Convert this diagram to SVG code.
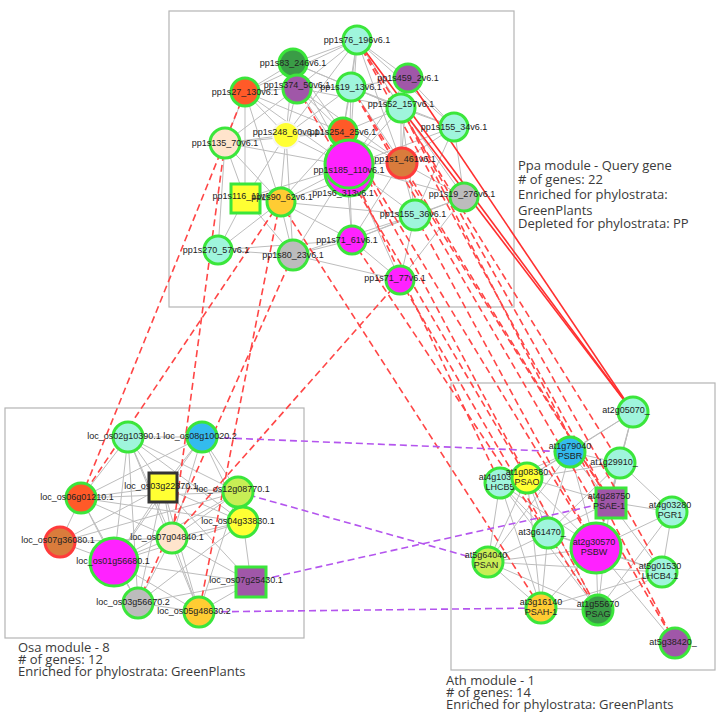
<svg xmlns="http://www.w3.org/2000/svg" width="723" height="718" viewBox="0 0 723 718">
<style>
.box{fill:#fff;stroke:#b4b4b4;stroke-width:1.2}
.g line{stroke:#bdbdbd;stroke-width:1}
.rd{stroke:#ff4646;stroke-width:1.6;stroke-dasharray:7 4;fill:none}
.rs{stroke:#ff3030;stroke-width:1.6}
.pd{stroke:#b455ee;stroke-width:1.6;stroke-dasharray:7 4}
.n{stroke:#3be63b;stroke-width:3}
.nr{stroke:#ff3b3b;stroke-width:3}
.nb{stroke:#333;stroke-width:3}
.nw{stroke:#f4f4f4;stroke-width:2}
.aq{fill:#9ff5dc}.or{fill:#ff5a28}.pu{fill:#a057a8}.dg{fill:#3a9c46}.ye{fill:#ffff33}.oy{fill:#ffcc33}
.pe{fill:#ffe4cc}.gr{fill:#bcbcbc}.mg{fill:#ff22ff}.br{fill:#d97c3c}.bl{fill:#33bbee}.yg{fill:#c8ee55}
text{font-family:"Liberation Sans",Arial,sans-serif;font-size:9px;fill:#222;text-anchor:middle}
.lg{font-family:"Open Sans","Liberation Sans",sans-serif;font-size:13px;fill:#3a3a3a;text-anchor:start}
</style>
<rect width="723" height="718" fill="#fff"/>
<rect class="box" x="169" y="11" width="345" height="296"/>
<rect class="box" x="5" y="408" width="299" height="230"/>
<rect class="box" x="451" y="383" width="264" height="287"/>
<g id="legends">
<text class="lg" x="518" y="170">Ppa module - Query gene</text>
<text class="lg" x="518" y="184">#  of genes: 22</text>
<text class="lg" x="518" y="199">Enriched for phylostrata:</text>
<text class="lg" x="518" y="215">GreenPlants</text>
<text class="lg" x="518" y="228">Depleted for phylostrata: PP</text>
<text class="lg" x="18" y="652">Osa module - 8</text>
<text class="lg" x="18" y="664">#  of genes: 12</text>
<text class="lg" x="18" y="676">Enriched for phylostrata: GreenPlants</text>
<text class="lg" x="446" y="685">Ath module - 1</text>
<text class="lg" x="446" y="697">#  of genes: 14</text>
<text class="lg" x="446" y="709">Enriched for phylostrata: GreenPlants</text>
</g>
<g id="edges-intra" class="g">
<line x1="357" y1="40" x2="351" y2="87"/><line x1="357" y1="40" x2="408" y2="78"/><line x1="357" y1="40" x2="401" y2="108"/><line x1="357" y1="40" x2="343" y2="132"/><line x1="357" y1="40" x2="293" y2="63"/><line x1="357" y1="40" x2="297" y2="88"/><line x1="357" y1="40" x2="349" y2="166"/><line x1="357" y1="40" x2="401" y2="162"/><line x1="357" y1="40" x2="454" y2="127"/><line x1="357" y1="40" x2="286" y2="135"/><line x1="357" y1="40" x2="245" y2="92"/>
<line x1="293" y1="63" x2="297" y2="88"/><line x1="293" y1="63" x2="245" y2="92"/><line x1="293" y1="63" x2="351" y2="87"/><line x1="293" y1="63" x2="343" y2="132"/><line x1="293" y1="63" x2="286" y2="135"/><line x1="293" y1="63" x2="349" y2="166"/><line x1="293" y1="63" x2="401" y2="108"/>
<line x1="297" y1="88" x2="245" y2="92"/><line x1="297" y1="88" x2="351" y2="87"/><line x1="297" y1="88" x2="286" y2="135"/><line x1="297" y1="88" x2="343" y2="132"/><line x1="297" y1="88" x2="349" y2="166"/><line x1="297" y1="88" x2="225" y2="143"/><line x1="297" y1="88" x2="401" y2="162"/><line x1="297" y1="88" x2="401" y2="108"/>
<line x1="245" y1="92" x2="225" y2="143"/><line x1="245" y1="92" x2="286" y2="135"/><line x1="245" y1="92" x2="343" y2="132"/><line x1="245" y1="92" x2="349" y2="166"/><line x1="245" y1="92" x2="280" y2="202"/><line x1="245" y1="92" x2="245" y2="198"/>
<line x1="351" y1="87" x2="408" y2="78"/><line x1="351" y1="87" x2="401" y2="108"/><line x1="351" y1="87" x2="343" y2="132"/><line x1="351" y1="87" x2="349" y2="166"/><line x1="351" y1="87" x2="401" y2="162"/><line x1="351" y1="87" x2="286" y2="135"/><line x1="351" y1="87" x2="454" y2="127"/>
<line x1="408" y1="78" x2="401" y2="108"/><line x1="408" y1="78" x2="454" y2="127"/><line x1="408" y1="78" x2="401" y2="162"/><line x1="408" y1="78" x2="349" y2="166"/>
<line x1="401" y1="108" x2="454" y2="127"/><line x1="401" y1="108" x2="343" y2="132"/><line x1="401" y1="108" x2="349" y2="166"/><line x1="401" y1="108" x2="401" y2="162"/><line x1="401" y1="108" x2="415" y2="215"/><line x1="401" y1="108" x2="464" y2="197"/>
<line x1="454" y1="127" x2="401" y2="162"/><line x1="454" y1="127" x2="464" y2="197"/><line x1="454" y1="127" x2="349" y2="166"/><line x1="454" y1="127" x2="415" y2="215"/>
<line x1="343" y1="132" x2="286" y2="135"/><line x1="343" y1="132" x2="401" y2="162"/><line x1="343" y1="132" x2="225" y2="143"/><line x1="343" y1="132" x2="280" y2="202"/><line x1="343" y1="132" x2="352" y2="240"/>
<line x1="286" y1="135" x2="225" y2="143"/><line x1="286" y1="135" x2="349" y2="166"/><line x1="286" y1="135" x2="280" y2="202"/><line x1="286" y1="135" x2="245" y2="198"/><line x1="286" y1="135" x2="293" y2="255"/>
<line x1="225" y1="143" x2="245" y2="198"/><line x1="225" y1="143" x2="280" y2="202"/><line x1="225" y1="143" x2="218" y2="250"/><line x1="225" y1="143" x2="349" y2="166"/>
<line x1="349" y1="166" x2="401" y2="162"/><line x1="349" y1="166" x2="415" y2="215"/><line x1="349" y1="166" x2="352" y2="240"/><line x1="349" y1="166" x2="280" y2="202"/><line x1="349" y1="166" x2="245" y2="198"/><line x1="349" y1="166" x2="293" y2="255"/><line x1="349" y1="166" x2="464" y2="197"/><line x1="349" y1="166" x2="400" y2="280"/>
<line x1="401" y1="162" x2="464" y2="197"/><line x1="401" y1="162" x2="415" y2="215"/><line x1="401" y1="162" x2="352" y2="240"/>
<line x1="464" y1="197" x2="415" y2="215"/><line x1="464" y1="197" x2="352" y2="240"/><line x1="464" y1="197" x2="400" y2="280"/>
<line x1="415" y1="215" x2="352" y2="240"/><line x1="415" y1="215" x2="400" y2="280"/><line x1="415" y1="215" x2="293" y2="255"/>
<line x1="352" y1="240" x2="400" y2="280"/><line x1="352" y1="240" x2="280" y2="202"/><line x1="352" y1="240" x2="293" y2="255"/><line x1="352" y1="240" x2="218" y2="250"/>
<line x1="245" y1="198" x2="280" y2="202"/><line x1="245" y1="198" x2="218" y2="250"/><line x1="245" y1="198" x2="293" y2="255"/>
<line x1="280" y1="202" x2="293" y2="255"/><line x1="280" y1="202" x2="218" y2="250"/><line x1="280" y1="202" x2="415" y2="215"/>
<line x1="218" y1="250" x2="293" y2="255"/><line x1="293" y1="255" x2="400" y2="280"/><line x1="349" y1="178" x2="280" y2="202"/>
<line x1="128" y1="437" x2="202" y2="437"/><line x1="128" y1="437" x2="163" y2="487"/><line x1="128" y1="437" x2="81" y2="498"/><line x1="128" y1="437" x2="238" y2="492"/><line x1="128" y1="437" x2="243" y2="522"/><line x1="128" y1="437" x2="114" y2="562"/><line x1="128" y1="437" x2="172" y2="538"/><line x1="128" y1="437" x2="138" y2="603"/><line x1="128" y1="437" x2="199" y2="612"/>
<line x1="202" y1="437" x2="163" y2="487"/><line x1="202" y1="437" x2="238" y2="492"/><line x1="202" y1="437" x2="243" y2="522"/><line x1="202" y1="437" x2="172" y2="538"/><line x1="202" y1="437" x2="114" y2="562"/><line x1="202" y1="437" x2="81" y2="498"/>
<line x1="163" y1="487" x2="81" y2="498"/><line x1="163" y1="487" x2="238" y2="492"/><line x1="163" y1="487" x2="243" y2="522"/><line x1="163" y1="487" x2="60" y2="542"/><line x1="163" y1="487" x2="114" y2="562"/><line x1="163" y1="487" x2="172" y2="538"/><line x1="163" y1="487" x2="138" y2="603"/><line x1="163" y1="487" x2="251" y2="582"/><line x1="163" y1="487" x2="199" y2="612"/>
<line x1="81" y1="498" x2="238" y2="492"/><line x1="81" y1="498" x2="60" y2="542"/><line x1="81" y1="498" x2="114" y2="562"/><line x1="81" y1="498" x2="172" y2="538"/><line x1="81" y1="498" x2="138" y2="603"/><line x1="81" y1="498" x2="243" y2="522"/>
<line x1="238" y1="492" x2="243" y2="522"/><line x1="238" y1="492" x2="114" y2="562"/><line x1="238" y1="492" x2="172" y2="538"/><line x1="238" y1="492" x2="199" y2="612"/>
<line x1="243" y1="522" x2="172" y2="538"/><line x1="243" y1="522" x2="251" y2="582"/><line x1="243" y1="522" x2="114" y2="562"/><line x1="243" y1="522" x2="138" y2="603"/>
<line x1="60" y1="542" x2="114" y2="562"/><line x1="60" y1="542" x2="172" y2="538"/><line x1="60" y1="542" x2="238" y2="492"/>
<line x1="114" y1="562" x2="172" y2="538"/><line x1="114" y1="562" x2="138" y2="603"/><line x1="114" y1="562" x2="199" y2="612"/><line x1="114" y1="562" x2="251" y2="582"/>
<line x1="172" y1="538" x2="138" y2="603"/><line x1="172" y1="538" x2="199" y2="612"/><line x1="172" y1="538" x2="251" y2="582"/>
<line x1="138" y1="603" x2="199" y2="612"/><line x1="138" y1="603" x2="251" y2="582"/><line x1="251" y1="582" x2="199" y2="612"/>
<line x1="633" y1="412" x2="570" y2="452"/><line x1="633" y1="412" x2="620" y2="463"/><line x1="633" y1="412" x2="527" y2="478"/><line x1="633" y1="412" x2="610" y2="502"/><line x1="633" y1="412" x2="596" y2="548"/>
<line x1="570" y1="452" x2="620" y2="463"/><line x1="570" y1="452" x2="500" y2="483"/><line x1="570" y1="452" x2="527" y2="478"/><line x1="570" y1="452" x2="610" y2="502"/><line x1="570" y1="452" x2="548" y2="533"/><line x1="570" y1="452" x2="596" y2="548"/><line x1="570" y1="452" x2="488" y2="562"/>
<line x1="620" y1="463" x2="527" y2="478"/><line x1="620" y1="463" x2="610" y2="502"/><line x1="620" y1="463" x2="672" y2="512"/><line x1="620" y1="463" x2="596" y2="548"/><line x1="620" y1="463" x2="548" y2="533"/>
<line x1="500" y1="483" x2="527" y2="478"/><line x1="500" y1="483" x2="548" y2="533"/><line x1="500" y1="483" x2="596" y2="548"/><line x1="500" y1="483" x2="488" y2="562"/><line x1="500" y1="483" x2="541" y2="608"/><line x1="500" y1="483" x2="598" y2="610"/>
<line x1="527" y1="478" x2="548" y2="533"/><line x1="527" y1="478" x2="596" y2="548"/><line x1="527" y1="478" x2="488" y2="562"/><line x1="527" y1="478" x2="541" y2="608"/><line x1="527" y1="478" x2="610" y2="502"/><line x1="527" y1="478" x2="598" y2="610"/>
<line x1="610" y1="502" x2="672" y2="512"/><line x1="610" y1="502" x2="596" y2="548"/><line x1="610" y1="502" x2="662" y2="572"/><line x1="610" y1="502" x2="548" y2="533"/><line x1="610" y1="502" x2="598" y2="610"/>
<line x1="672" y1="512" x2="596" y2="548"/><line x1="672" y1="512" x2="662" y2="572"/><line x1="672" y1="512" x2="598" y2="610"/>
<line x1="548" y1="533" x2="596" y2="548"/><line x1="548" y1="533" x2="488" y2="562"/><line x1="548" y1="533" x2="541" y2="608"/><line x1="548" y1="533" x2="598" y2="610"/><line x1="548" y1="533" x2="662" y2="572"/>
<line x1="596" y1="548" x2="488" y2="562"/><line x1="596" y1="548" x2="541" y2="608"/><line x1="596" y1="548" x2="598" y2="610"/><line x1="596" y1="548" x2="662" y2="572"/><line x1="596" y1="548" x2="675" y2="643"/>
<line x1="488" y1="562" x2="541" y2="608"/><line x1="488" y1="562" x2="598" y2="610"/><line x1="488" y1="562" x2="662" y2="572"/>
<line x1="541" y1="608" x2="598" y2="610"/><line x1="541" y1="608" x2="662" y2="572"/><line x1="598" y1="610" x2="662" y2="572"/>
</g>
<g id="connectors">
<line class="rs" x1="357" y1="40" x2="633" y2="412"/>
<line class="rs" x1="408" y1="78" x2="633" y2="412"/>
<line class="rs" x1="401" y1="108" x2="633" y2="412"/>
<line class="rd" x1="245" y1="92" x2="81" y2="498"/>
<line class="rd" x1="280" y1="202" x2="81" y2="498"/>
<line class="rd" x1="225" y1="143" x2="172" y2="538"/>
<line class="rd" x1="280" y1="202" x2="199" y2="612"/>
<line class="rd" x1="293" y1="255" x2="138" y2="603"/>
<line class="rd" x1="400" y1="280" x2="172" y2="538"/>
<line class="rd" x1="357" y1="40" x2="610" y2="502"/>
<line class="rd" x1="351" y1="87" x2="610" y2="502"/>
<line class="rd" x1="401" y1="108" x2="675" y2="643"/>
<line class="rd" x1="351" y1="87" x2="675" y2="643"/>
<line class="rd" x1="401" y1="108" x2="662" y2="572"/>
<line class="rd" x1="297" y1="88" x2="527" y2="478"/>
<line class="rd" x1="343" y1="132" x2="596" y2="548"/>
<line class="rd" x1="343" y1="132" x2="598" y2="610"/>
<line class="rd" x1="349" y1="166" x2="500" y2="483"/>
<line class="rd" x1="401" y1="162" x2="610" y2="502"/>
<line class="rd" x1="280" y1="202" x2="541" y2="608"/>
<line class="rd" x1="352" y1="240" x2="598" y2="610"/>
<line class="rd" x1="415" y1="215" x2="596" y2="548"/>
<line class="rd" x1="400" y1="280" x2="548" y2="533"/>
<line class="rd" x1="357" y1="40" x2="620" y2="463"/>
<line class="pd" x1="202" y1="437" x2="570" y2="452"/>
<line class="pd" x1="238" y1="492" x2="488" y2="562"/>
<line class="pd" x1="251" y1="582" x2="610" y2="502"/>
<line class="pd" x1="199" y1="612" x2="541" y2="608"/>
</g>
<g id="nodes">
<g id="pp1s76_196"><circle class="n aq" cx="357" cy="40" r="14"/><text x="357" y="43">pp1s76_196v6.1</text></g>
<g id="pp1s83_246"><circle class="n dg" cx="293" cy="63" r="14"/><text x="293" y="66">pp1s83_246v6.1</text></g>
<g id="pp1s374_50"><circle class="n pu" cx="297" cy="89" r="14"/><text x="297" y="88">pp1s374_50v6.1</text></g>
<g id="pp1s27_130"><circle class="n or" cx="245" cy="92" r="14"/><text x="245" y="95">pp1s27_130v6.1</text></g>
<g id="pp1s19_13"><circle class="n aq" cx="351" cy="87" r="14"/><text x="351" y="90">pp1s19_13v6.1</text></g>
<g id="pp1s459_2"><circle class="n pu" cx="408" cy="78" r="14"/><text x="408" y="81">pp1s459_2v6.1</text></g>
<g id="pp1s52_157"><circle class="n aq" cx="401" cy="108" r="14"/><text x="401" y="107">pp1s52_157v6.1</text></g>
<g id="pp1s155_34"><circle class="n aq" cx="454" cy="127" r="14"/><text x="454" y="130">pp1s155_34v6.1</text></g>
<g id="pp1s254_25"><circle class="n or" cx="343" cy="132" r="14"/><text x="343" y="135">pp1s254_25v6.1</text></g>
<g id="pp1s248_60"><circle class="nw ye" cx="286" cy="135" r="13"/><text x="286" y="135">pp1s248_60v6.1</text></g>
<g id="pp1s135_70"><circle class="n pe" cx="225" cy="143" r="15"/><text x="225" y="146">pp1s135_70v6.1</text></g>
<g id="pp1s6_313"><circle class="n mg" cx="349" cy="172" r="24"/><text x="343" y="196">pp1s6_313v6.1</text></g>
<g id="pp1s185_110"><circle class="n mg" cx="349" cy="164" r="24"/><text x="349" y="173">pp1s185_110v6.1</text></g>
<g id="pp1s1_461"><circle class="nr br" cx="402" cy="163" r="15"/><text x="405" y="162">pp1s1_461v6.1</text></g>
<g id="pp1s19_276"><circle class="n gr" cx="464" cy="197" r="14"/><text x="462" y="197">pp1s19_276v6.1</text></g>
<g id="pp1s155_36"><circle class="n aq" cx="415" cy="215" r="15"/><text x="413" y="217">pp1s155_36v6.1</text></g>
<g id="pp1s71_61"><circle class="n mg" cx="352" cy="240" r="14"/><text x="347" y="243">pp1s71_61v6.1</text></g>
<g id="pp1s71_77"><circle class="n mg" cx="400" cy="280" r="14"/><text x="395" y="281">pp1s71_77v6.1</text></g>
<g id="pp1s116_11"><rect class="n ye" x="231" y="184" width="29" height="29"/><text x="245" y="199">pp1s116_11v6.1</text></g>
<g id="pp1s90_62"><circle class="n oy" cx="281" cy="202" r="14"/><text x="282" y="200">pp1s90_62v6.1</text></g>
<g id="pp1s270_57"><circle class="n aq" cx="218" cy="250" r="14"/><text x="216" y="253">pp1s270_57v6.1</text></g>
<g id="pp1s80_23"><circle class="n gr" cx="293" cy="255" r="15"/><text x="293" y="258">pp1s80_23v6.1</text></g>
<g id="loc_os02g10390"><circle class="n aq" cx="128" cy="437" r="15"/><text x="124" y="439">loc_os02g10390.1</text></g>
<g id="loc_os08g10020"><circle class="n bl" cx="202" cy="437" r="15"/><text x="200" y="439">loc_os08g10020.2</text></g>
<g id="loc_os03g22370"><rect class="nb ye" x="149" y="473" width="28" height="29"/><text x="161" y="489">loc_os03g22370.1</text></g>
<g id="loc_os06g01210"><circle class="n or" cx="81" cy="498" r="15"/><text x="77" y="500">loc_os06g01210.1</text></g>
<g id="loc_os12g08770"><circle class="n yg" cx="238" cy="492" r="15"/><text x="233" y="492">loc_os12g08770.1</text></g>
<g id="loc_os04g33830"><circle class="n ye" cx="243" cy="522" r="15"/><text x="238" y="524">loc_os04g33830.1</text></g>
<g id="loc_os07g36080"><circle class="nr br" cx="60" cy="542" r="15"/><text x="58" y="543">loc_os07g36080.1</text></g>
<g id="loc_os01g56680"><circle class="n mg" cx="114" cy="562" r="24"/><text x="113" y="564">loc_os01g56680.1</text></g>
<g id="loc_os07g04840"><circle class="n pe" cx="172" cy="538" r="15"/><text x="167" y="540">loc_os07g04840.1</text></g>
<g id="loc_os03g56670"><circle class="n gr" cx="138" cy="603" r="15"/><text x="133" y="605">loc_os03g56670.2</text></g>
<g id="loc_os07g25430"><rect class="n pu" x="236" y="567" width="30" height="30"/><text x="246" y="583">loc_os07g25430.1</text></g>
<g id="loc_os05g48630"><circle class="n oy" cx="199" cy="612" r="15"/><text x="194" y="614">loc_os05g48630.2</text></g>
<g id="at2g05070"><circle class="n aq" cx="633" cy="412" r="15"/><text x="626" y="413">at2g05070_</text></g>
<g id="at1g79040"><circle class="n bl" cx="570" cy="452" r="15"/><text x="570" y="449">at1g79040<tspan x="570" y="459">PSBR</tspan></text></g>
<g id="at1g29910"><circle class="n aq" cx="620" cy="463" r="15"/><text x="614" y="465">at1g29910_</text></g>
<g id="at4g10340"><circle class="n aq" cx="500" cy="483" r="15"/><text x="500" y="480">at4g10340<tspan x="500" y="490">LHCB5</tspan></text></g>
<g id="at1g08380"><circle class="n ye" cx="527" cy="478" r="15"/><text x="527" y="475">at1g08380<tspan x="527" y="485">PSAO</tspan></text></g>
<g id="at4g28750"><rect class="n pu" x="596" y="488" width="30" height="30"/><text x="609" y="499">at4g28750<tspan x="609" y="509">PSAE-1</tspan></text></g>
<g id="at4g03280"><circle class="n aq" cx="672" cy="512" r="15"/><text x="670" y="508">at4g03280<tspan x="670" y="518">PGR1</tspan></text></g>
<g id="at3g61470"><circle class="n aq" cx="548" cy="533" r="15"/><text x="542" y="535">at3g61470_</text></g>
<g id="at2g30570"><circle class="n mg" cx="596" cy="548" r="25"/><text x="594" y="545">at2g30570<tspan x="594" y="555">PSBW</tspan></text></g>
<g id="at5g64040"><circle class="n yg" cx="488" cy="562" r="15"/><text x="486" y="558">at5g64040<tspan x="486" y="568">PSAN</tspan></text></g>
<g id="at3g16140"><circle class="n oy" cx="541" cy="608" r="15"/><text x="541" y="605">at3g16140<tspan x="541" y="615">PSAH-1</tspan></text></g>
<g id="at1g55670"><circle class="n dg" cx="598" cy="610" r="15"/><text x="598" y="607">at1g55670<tspan x="598" y="617">PSAG</tspan></text></g>
<g id="at5g01530"><circle class="n aq" cx="662" cy="572" r="15"/><text x="660" y="569">at5g01530<tspan x="660" y="579">LHCB4.1</tspan></text></g>
<g id="at5g38420"><circle class="n pu" cx="675" cy="643" r="15"/><text x="673" y="645">at5g38420_</text></g>
</g>
</svg>
